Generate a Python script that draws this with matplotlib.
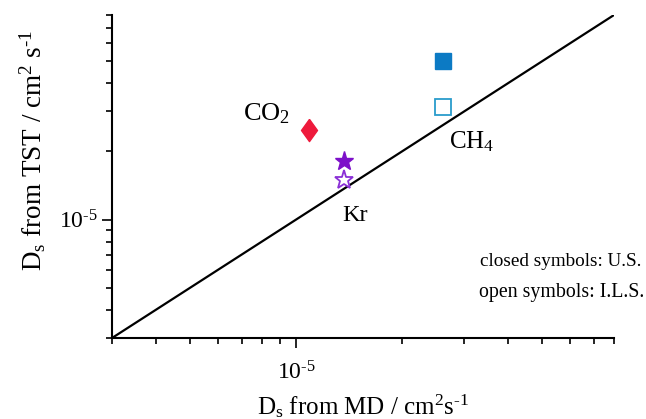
import matplotlib.pyplot as plt
from matplotlib.ticker import FixedLocator, FixedFormatter

plt.rcParams['font.family'] = ['Liberation Serif', 'DejaVu Serif']
plt.rcParams['mathtext.fontset'] = 'custom'
plt.rcParams['mathtext.rm'] = 'Liberation Serif'
plt.rcParams['mathtext.it'] = 'Liberation Serif'
plt.rcParams['mathtext.default'] = 'rm'

# self-diffusivities, cm^2/s
species = ['CO$_2$', 'Kr', 'CH$_4$']
d_md = [1.09e-5, 1.366e-5, 2.61e-5]
d_tst_us = [2.48e-5, 1.81e-5, 5.03e-5]     # closed symbols
d_tst_ils = [None, 1.495e-5, 3.15e-5]      # open symbols
colors = ['#ee1a3c', '#7d10c9', '#0c7ac4']
open_colors = [None, '#8a2fd6', '#2a9ccc']
lims = [3e-6, 8e-5]
major_ticks = [1e-5]
major_labels = ['10$^{\u20105}$']

diamond = [(0, 1), (0.72, 0), (0, -1), (-0.72, 0), (0, 1)]
markers = [diamond, '*', 's']
sizes = [16, 14, 11]

fig = plt.figure(figsize=(6.46, 4.19), dpi=100)
ax = fig.add_axes([0.1734, 0.1933, 0.7771, 0.7709])

ax.plot(lims, lims, color='black', lw=1.6)

for i in range(len(species)):
    ax.plot(d_md[i], d_tst_us[i], marker=markers[i], ms=sizes[i],
            color=colors[i], mec=colors[i], ls='None')
    if d_tst_ils[i] is not None:
        ax.plot(d_md[i], d_tst_ils[i], marker=markers[i], ms=sizes[i],
                mfc='white', mec=open_colors[i], mew=1.3, ls='None')

ax.set_xscale('log')
ax.set_yscale('log')
ax.set_xlim(lims)
ax.set_ylim(lims)
for axis in [ax.xaxis, ax.yaxis]:
    axis.set_major_locator(FixedLocator(major_ticks))
    axis.set_major_formatter(FixedFormatter(major_labels))

for side in ['top', 'right']:
    ax.spines[side].set_visible(False)
for side in ['left', 'bottom']:
    ax.spines[side].set_linewidth(1.5)

ax.tick_params(which='major', direction='out', length=7, width=1.2, labelsize=17)
ax.tick_params(which='minor', direction='out', length=4, width=1.2,
               labelbottom=False, labelleft=False)
ax.tick_params(axis='x', which='major', pad=10)
ax.tick_params(axis='y', which='major', pad=3)

ax.set_xlabel('D$_s$ from MD / cm$^2$s$^{\u20101}$', fontsize=18)
ax.xaxis.set_label_coords(0.5, -0.168)
ax.set_ylabel('D$_s$ from TST / cm$^2$ s$^{\u20101}$', fontsize=19.5)
ax.yaxis.set_label_coords(-0.128, 0.58)

# species labels next to the markers
ax.annotate(species[0], (d_md[0], d_tst_us[0]), xytext=(-19, 17),
            textcoords='offset pixels', ha='right', va='center', fontsize=19)
ax.annotate(species[1], (d_md[1], d_tst_ils[1]), xytext=(-1, -35),
            textcoords='offset pixels', ha='left', va='center', fontsize=17.5)
ax.annotate(species[2], (d_md[2], d_tst_ils[2]), xytext=(6, -35),
            textcoords='offset pixels', ha='left', va='center', fontsize=18)

fig.text(641 / 646, 1 - 262 / 419, 'closed symbols: U.S.', ha='right',
         va='center', fontsize=13.8)
fig.text(644 / 646, 1 - 292 / 419, 'open symbols: I.L.S.', ha='right',
         va='center', fontsize=14.3)

fig.savefig('out.png', dpi=100)
